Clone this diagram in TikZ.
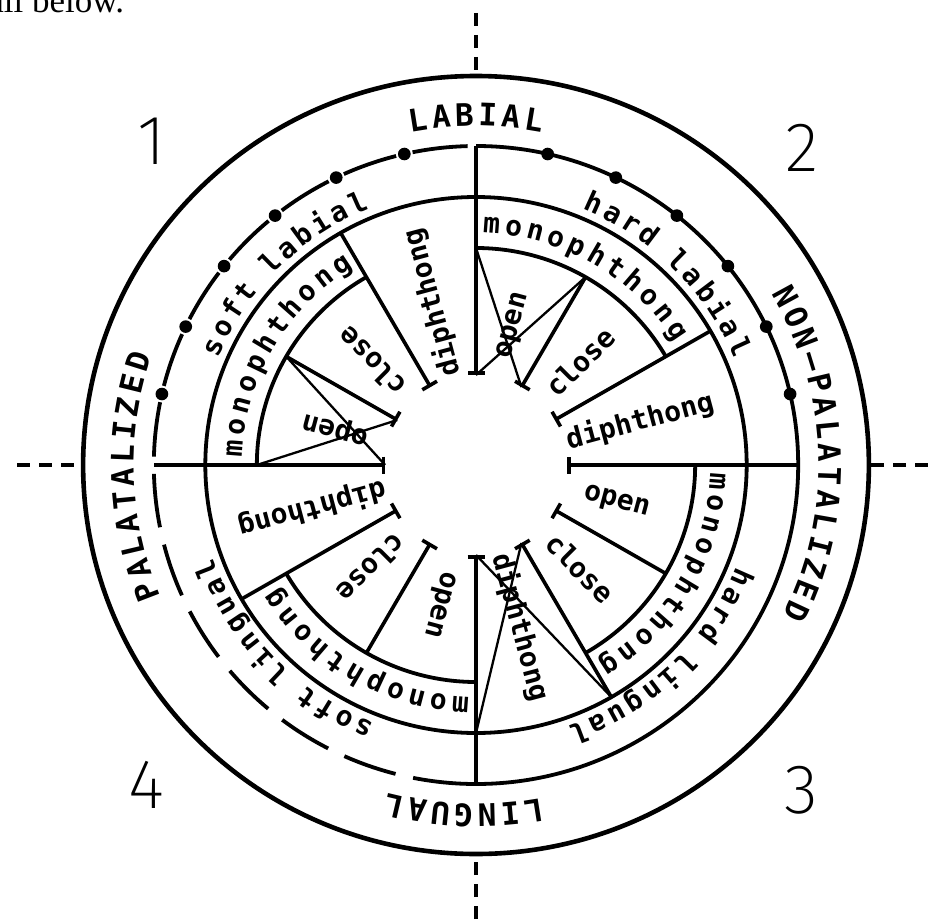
\documentclass[tikz,border=0pt]{standalone}
\usepackage{fontspec}
\setmainfont{DejaVu Sans}
\newfontfamily\monofam{DejaVu Sans Mono}
\IfFontExistsTF{Fira Sans ExtraLight}
  {\newfontfamily\numfam{Fira Sans ExtraLight}}
  {\IfFontExistsTF{Fira Sans Light}
     {\newfontfamily\numfam{Fira Sans Light}}
     {\newfontfamily\numfam{Liberation Sans}}}
\newfontfamily\serfam{Liberation Serif}
\newcommand\capf{\monofam\bfseries\fontsize{31}{31}\selectfont}
\newcommand\lowf{\monofam\bfseries\fontsize{28}{28}\selectfont}
\newcommand\radf{\monofam\bfseries\fontsize{28}{28}\selectfont}
\newcommand\kc{\kern4pt}
\newcommand\kl{\kern3.7pt}
\newcommand\km{\kern4.5pt}
\usetikzlibrary{decorations.text,arrows.meta}
\begin{document}
\begin{tikzpicture}[x=1.01pt,y=1pt,
  ring/.style={line width=3.8pt},
  spoke/.style={line width=3.6pt,arrows={Bar[width=17pt]-}},
  diag/.style={line width=2.3pt},
  axis/.style={line width=3.4pt,dash pattern=on 13pt off 9pt},
  curved/.style={decorate,decoration={text along path,text align=center,text={#1}}},
  radial/.style={font=\radf,inner sep=0pt},
  num/.style={font=\numfam\fontsize{70}{70}\selectfont,inner sep=0pt}]
\useasboundingbox (-471.29,-454) rectangle (447.52,465);
% fragment of the text above the figure
\node[font=\serfam\fontsize{35}{35}\selectfont,anchor=base west,inner sep=0pt] (frag) at (-483,452) {all below.};
% axes
\coordinate (top) at (0,452);
\coordinate (bot) at (0,-454);
\coordinate (lft) at (-454,0);
\coordinate (rgt) at (447.52,0);
\draw[axis] (top) -- (90:390);
\draw[axis] (bot) -- (270:390);
\draw[axis] (lft) -- (180:390);
\draw[axis] (rgt) -- (0:390);
% circles
\draw[ring,line width=4.6pt] (0,0) circle[radius=389];
\draw[ring] (0,0) circle[radius=268];
% ring r2: quadrants 2 and 3 solid
\draw[ring] (90:319) arc[start angle=90,end angle=-90,radius=319];
% quadrant 1: dashes with dots
\foreach \k in {0,...,6}{
  \pgfmathsetmacro\sa{90+\k*90/7+1.5}
  \pgfmathsetmacro\ea{90+(\k+1)*90/7-1.5}
  \draw[ring] (\sa:319) arc[start angle=\sa,end angle=\ea,radius=319];
}
% quadrant 4: long dashes
\foreach \k in {0,...,6}{
  \pgfmathsetmacro\sa{180+\k*90/7+1.6}
  \pgfmathsetmacro\ea{\k==6 ? 270 : 180+(\k+1)*90/7-1.6}
  \draw[ring] (\sa:319) arc[start angle=\sa,end angle=\ea,radius=319];
}
% dots (labial)
\foreach \k in {1,...,6}{
  \fill (90+\k*90/7:319) circle[radius=6.3];
  \fill (\k*90/7:319) circle[radius=6.3];
}
% r4 arcs (monophthong bands)
\draw[ring] (180:217) arc[start angle=180,end angle=120,radius=217];
\draw[ring] (90:217) arc[start angle=90,end angle=30,radius=217];
\draw[ring] (0:217) arc[start angle=0,end angle=-60,radius=217];
\draw[ring] (270:217) arc[start angle=270,end angle=210,radius=217];
% axis spokes
\foreach \a in {0,90,180,270}{\draw[spoke] (\a:90) -- (\a:319);}
% diphthong boundaries
\foreach \a in {30,120,210,300}{\draw[spoke] (\a:90) -- (\a:268);}
% close/open boundaries
\foreach \a in {60,150,240,330}{\draw[spoke] (\a:90) -- (\a:217);}
% crossing lines
\draw[diag] (150:217) -- (180:90);
\draw[diag] (180:217) -- (150:90);
\draw[diag] (60:217) -- (90:90);
\draw[diag] (90:217) -- (60:90);
\draw[diag] (300:268) -- (270:90);
\draw[diag] (270:268) -- (300:90);
% outer labels
\path[curved={|\capf|{L\kc}{A\kc}{B\kc}{I\kc}{A\kc}L}] (150:339) arc[start angle=150,end angle=30,radius=339];
\path[curved={|\capf|{N\kc}{O\kc}{N\kc}{—\kc}{P\kc}{A\kc}{L\kc}{A\kc}{T\kc}{A\kc}{L\kc}{I\kc}{Z\kc}{E\kc}D}] (65:339) arc[start angle=65,end angle=-61,radius=339];
\path[curved={|\capf|{L\kc}{I\kc}{N\kc}{G\kc}{U\kc}{A\kc}L}] (-32:339) arc[start angle=-32,end angle=-152,radius=339];
\path[curved={|\capf|{P\kc}{A\kc}{L\kc}{A\kc}{T\kc}{A\kc}{L\kc}{I\kc}{Z\kc}{E\kc}D}] (242:339) arc[start angle=242,end angle=122,radius=339];
% quadrant labels
\path[curved={|\lowf|{s\kl}{o\kl}{f\kl}{t\kl} {l\kl}{a\kl}{b\kl}{i\kl}{a\kl}l}] (190:277) arc[start angle=190,end angle=80,radius=277];
\path[curved={|\lowf|{h\kl}{a\kl}{r\kl}{d\kl} {l\kl}{a\kl}{b\kl}{i\kl}{a\kl}l}] (100:277) arc[start angle=100,end angle=-10,radius=277];
\path[curved={|\lowf|{h\kl}{a\kl}{r\kl}{d\kl} {l\kl}{i\kl}{n\kl}{g\kl}{u\kl}{a\kl}l}] (9:277) arc[start angle=9,end angle=-101,radius=277];
\path[curved={|\lowf|{s\kl}{o\kl}{f\kl}{t\kl} {l\kl}{i\kl}{n\kl}{g\kl}{u\kl}{a\kl}l}] (279:277) arc[start angle=279,end angle=169,radius=277];
% monophthong bands
\path[curved={|\lowf|{m\km}{o\km}{n\km}{o\km}{p\km}{h\km}{t\km}{h\km}{o\km}{n\km}g}] (205:232) arc[start angle=205,end angle=95,radius=232];
\path[curved={|\lowf|{m\km}{o\km}{n\km}{o\km}{p\km}{h\km}{t\km}{h\km}{o\km}{n\km}g}] (115:232) arc[start angle=115,end angle=5,radius=232];
\path[curved={|\lowf|{m\km}{o\km}{n\km}{o\km}{p\km}{h\km}{t\km}{h\km}{o\km}{n\km}g}] (25:232) arc[start angle=25,end angle=-85,radius=232];
\path[curved={|\lowf|{m\km}{o\km}{n\km}{o\km}{p\km}{h\km}{t\km}{h\km}{o\km}{n\km}g}] (295:232) arc[start angle=295,end angle=185,radius=232];
% radial labels
\node[radial,rotate=105] (d1) at (105:168) {diphthong};
\node[radial,rotate=135] (c1) at (135:146) {close};
\node[radial,rotate=165] (o1) at (165:144) {open};
\node[radial,rotate=75] (o2) at (75:144) {open};
\node[radial,rotate=45] (c2) at (45:146) {close};
\node[radial,rotate=15] (d2) at (15:168) {diphthong};
\node[radial,rotate=345] (o3) at (345:144) {open};
\node[radial,rotate=315] (c3) at (315:146) {close};
\node[radial,rotate=285] (d3) at (285:168) {diphthong};
\node[radial,rotate=195] (d4) at (195:168) {diphthong};
\node[radial,rotate=225] (c4) at (225:146) {close};
\node[radial,rotate=255] (o4) at (255:144) {open};
% quadrant numbers
\node[num] (n1) at (-321,324) {1};
\node[num] (n2) at (323,317) {2};
\node[num] (n3) at (322,-325) {3};
\node[num] (n4) at (-326,-320) {4};
\end{tikzpicture}
\end{document}
